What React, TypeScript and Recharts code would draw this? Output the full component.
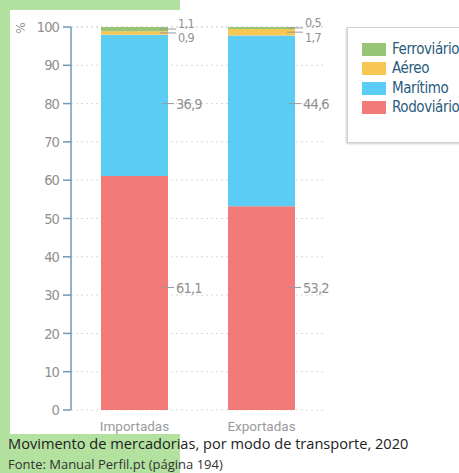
import React from 'react';
import { BarChart, Bar, XAxis, YAxis, CartesianGrid, LabelList } from 'recharts';

// Movement of goods by transport mode, 2020 (% of total)
const categories = ['Importadas', 'Exportadas'];
const rodoviario = [61.1, 53.2];
const maritimo = [36.9, 44.6];
const aereo = [0.9, 1.7];
const ferroviario = [1.1, 0.5];
const yTicks = [0, 10, 20, 30, 40, 50, 60, 70, 80, 90, 100];

const data = categories.map((name, i) => ({
  name,
  rodoviario: rodoviario[i],
  maritimo: maritimo[i],
  aereo: aereo[i],
  ferroviario: ferroviario[i],
}));

// legend order (top of stack first)
const series = [
  { key: 'ferroviario', name: 'Ferroviário', color: '#98c475' },
  { key: 'aereo', name: 'Aéreo', color: '#f6c752' },
  { key: 'maritimo', name: 'Marítimo', color: '#5bcdf5' },
  { key: 'rodoviario', name: 'Rodoviário', color: '#f27a78' },
];

const NARROW = '"Liberation Sans Narrow", "DejaVu Sans Condensed", "Roboto", sans-serif';
const TICK_GRAY = '#909090';
const LEADER = '#9a9a9a';

const fmt = (v: number) => String(v).replace('.', ',');

// Large segments: labels sit at a common level on the value axis
const levelFor: Record<string, number> = { maritimo: 80, rodoviario: 32 };
const baseFor = (key: string, i: number) => (key === 'maritimo' ? rodoviario[i] : 0);

const bigLabel = (key: string) => (props: any) => {
  const { x, y, width, height, value, index } = props;
  const ppu = height / value;
  const ly = y + height - (levelFor[key] - baseFor(key, index)) * ppu;
  const right = x + width;
  return (
    <g>
      <line x1={right - 6} x2={right + 6} y1={ly} y2={ly} stroke={LEADER} strokeWidth={1} />
      <text
        x={right + 8}
        y={ly}
        dy="0.35em"
        fill={TICK_GRAY}
        fontFamily={NARROW}
        fontSize={14.5}
        letterSpacing={-0.8}
      >
        {fmt(value)}
      </text>
    </g>
  );
};

// Thin segments at the top: leader at the segment, text nudged up or down
const smallLabel = (shift: number) => (props: any) => {
  const { x, y, width, height, value } = props;
  const ly = y + height / 2;
  const right = x + width;
  return (
    <g>
      <line x1={right - 8} x2={right + 8} y1={ly} y2={ly} stroke={LEADER} strokeWidth={1} />
      <text
        x={right + 10}
        y={ly + shift}
        dy="0.35em"
        fill={TICK_GRAY}
        fontFamily={NARROW}
        fontSize={12.5}
        letterSpacing={-0.6}
      >
        {fmt(value)}
      </text>
    </g>
  );
};

const PercentLabel = (props: any) => {
  const { viewBox } = props;
  const x = viewBox.x + 20;
  const y = viewBox.y + 1;
  return (
    <text
      x={x}
      y={y}
      transform={`rotate(-90 ${x} ${y})`}
      textAnchor="middle"
      dy="0.35em"
      fill={TICK_GRAY}
      fontFamily={NARROW}
      fontSize={13}
    >
      %
    </text>
  );
};

export default function App() {
  return (
    <div
      style={{
        position: 'absolute',
        left: 0,
        top: 0,
        width: 459,
        height: 473,
        overflow: 'hidden',
        background: '#ffffff',
      }}
    >
      <div style={{ position: 'absolute', left: 0, top: 0, width: 180, height: 473, background: '#b3e19f' }} />
      <div style={{ position: 'absolute', left: 10, top: 10, width: 449, height: 424, background: '#ffffff' }} />

      <div style={{ position: 'absolute', left: 0, top: 0 }}>
        <BarChart
          width={459}
          height={473}
          data={data}
          margin={{ top: 27, right: 134, bottom: 33, left: 0 }}
          barSize={67}
        >
          <CartesianGrid vertical={false} stroke="#d9d9d9" strokeDasharray="2 3" />
          <XAxis
            dataKey="name"
            axisLine={false}
            tickLine={false}
            height={30}
            tickMargin={5}
            tick={{ fill: '#9a9a9a', fontSize: 13.5, fontFamily: 'Roboto, sans-serif' }}
          />
          <YAxis
            type="number"
            domain={[0, 100]}
            ticks={yTicks}
            width={71}
            interval={0}
            axisLine={{ stroke: '#6f9ab7', strokeWidth: 1.5 }}
            tickLine={{ stroke: '#6f9ab7', strokeWidth: 1.5 }}
            tickSize={8}
            tickMargin={4}
            tick={{ fill: TICK_GRAY, fontSize: 14.5, fontFamily: NARROW, letterSpacing: -0.9 }}
            label={<PercentLabel />}
          />
          <Bar dataKey="rodoviario" stackId="s" fill="#f27a78" isAnimationActive={false}>
            <LabelList dataKey="rodoviario" content={bigLabel('rodoviario')} />
          </Bar>
          <Bar dataKey="maritimo" stackId="s" fill="#5bcdf5" isAnimationActive={false}>
            <LabelList dataKey="maritimo" content={bigLabel('maritimo')} />
          </Bar>
          <Bar dataKey="aereo" stackId="s" fill="#f6c752" isAnimationActive={false}>
            <LabelList dataKey="aereo" content={smallLabel(5)} />
          </Bar>
          <Bar dataKey="ferroviario" stackId="s" fill="#98c475" isAnimationActive={false}>
            <LabelList dataKey="ferroviario" content={smallLabel(-5)} />
          </Bar>
        </BarChart>
      </div>

      <div
        style={{
          position: 'absolute',
          left: 347,
          top: 27,
          width: 140,
          height: 116,
          boxSizing: 'border-box',
          border: '1px solid #cfcfcf',
          boxShadow: '-1px 1px 2px rgba(0,0,0,0.18)',
          background: '#ffffff',
          paddingTop: 12,
        }}
      >
        {series.map((s) => (
          <div key={s.key} style={{ display: 'flex', alignItems: 'center', height: 19.3 }}>
            <div style={{ width: 24, height: 13, background: s.color, marginLeft: 14, marginRight: 6 }} />
            <span
              style={{
                fontFamily: NARROW,
                fontSize: 15,
                letterSpacing: -0.4,
                fontWeight: 500,
                color: '#2a5c7c',
                whiteSpace: 'nowrap',
                lineHeight: '19px',
              }}
            >
              {s.name}
            </span>
          </div>
        ))}
      </div>

      <div
        style={{
          position: 'absolute',
          left: 8,
          top: 435,
          fontFamily: '"Open Sans", "Noto Sans", sans-serif',
          fontSize: 14.6,
          lineHeight: '16px',
          color: '#222222',
          whiteSpace: 'nowrap',
        }}
      >
        Movimento de mercadorias, por modo de transporte, 2020
      </div>
      <div
        style={{
          position: 'absolute',
          left: 8,
          top: 456,
          fontFamily: '"Open Sans", "Noto Sans", sans-serif',
          fontSize: 13,
          lineHeight: '16px',
          color: '#333333',
          whiteSpace: 'nowrap',
        }}
      >
        Fonte: Manual Perfil.pt (página 194)
      </div>
    </div>
  );
}
